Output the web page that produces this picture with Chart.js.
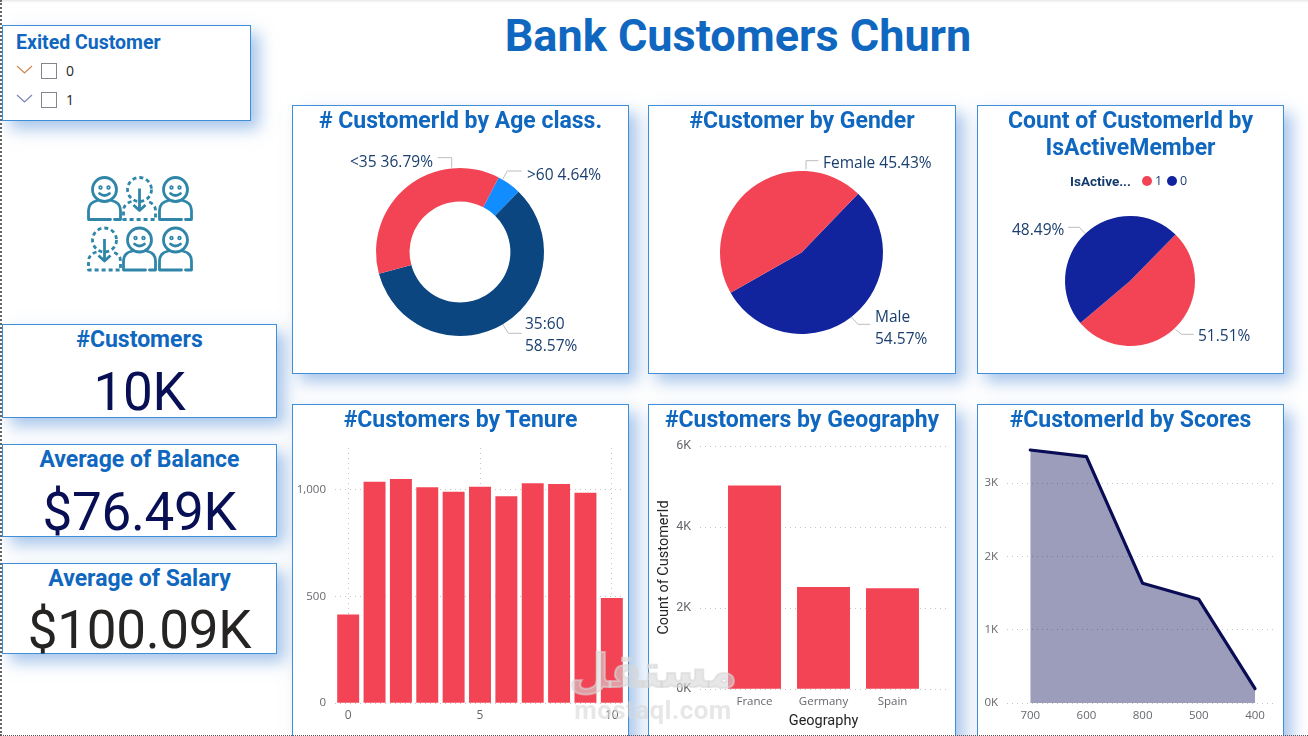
<!DOCTYPE html>
<html>
<head>
<meta charset="utf-8">
<title>Bank Customers Churn</title>
<script src="https://cdn.jsdelivr.net/npm/chart.js@4/dist/chart.umd.min.js"></script>
<style>
  html,body{margin:0;padding:0;background:#fff;width:1308px;height:736px;overflow:hidden;font-family:Roboto,sans-serif}
  .topline{position:absolute;left:0;top:0;width:1308px;height:3px;background:linear-gradient(#e9e9e9,#fff)}
  .leftline{position:absolute;left:0;top:0;width:0;height:736px;border-left:2px dotted #666}
  .botline{position:absolute;left:0;top:735px;width:1308px;height:0;border-top:1px dotted #555;z-index:5}
  .panel{position:absolute;box-sizing:border-box;background:#fff;border:1px solid #3f8ed8;box-shadow:8px 8px 15px rgba(80,140,215,.5)}
  canvas{position:absolute;display:block}
  .ttl{position:absolute;color:#0f67bf;font-weight:700;text-align:center;white-space:nowrap;font-size:23px;line-height:27px;z-index:2}
  #mainTitle{left:292px;width:892px;top:9px;font-size:45px;line-height:54px}
  .val{position:absolute;left:2px;width:275px;text-align:center;font-size:53px;line-height:60px;letter-spacing:-.3px;color:#080f55;z-index:2}
  .row{position:absolute;left:16px;height:16px;z-index:2;font:14px "Open Sans",sans-serif;color:#252423}
  .row svg{position:absolute;left:0;top:0}
  .row i{position:absolute;left:25px;top:0;width:14px;height:14px;border:1px solid #8a8290}
  .row span{position:absolute;left:50px;top:-2px}
  #legend{position:absolute;left:1070px;top:173px;height:16px;font:12.5px/16px "Open Sans",sans-serif;color:#1a3f6f;z-index:3;white-space:nowrap}
  #legend b{position:absolute;left:0;top:0;font-family:Roboto;font-size:13.5px;color:#123a6b}
  #legend i{position:absolute;top:3px;width:10px;height:10px;border-radius:50%}
  #legend span{position:absolute;top:0}
  #icon{position:absolute;left:80px;top:170px;z-index:2}
  #mark{position:absolute;left:560px;top:645px;width:186px;text-align:center;color:rgba(215,215,215,.6);z-index:4;pointer-events:none}
  #mark .ar{font:700 46px/52px "DejaVu Sans",sans-serif;direction:rtl;-webkit-text-stroke:2px rgba(215,215,215,.6)}
  #mark .en{font:700 26px/28px Roboto,sans-serif;letter-spacing:.4px;margin-top:-1px}
</style>
</head>
<body>
<div class="topline"></div><div class="leftline"></div><div class="botline"></div>

<div class="ttl" id="mainTitle">Bank Customers Churn</div>

<div class="panel" id="slicer" style="left:2px;top:25px;width:249px;height:96px"></div>
<div id="slicerText">
  <div class="ttl" style="left:16px;top:29px;font-size:19.5px;line-height:27px">Exited Customer</div>
  <div id="slicerRows"></div>
</div>

<svg id="icon" width="120" height="110" viewBox="80 170 120 110" fill="none" stroke="#2f86a8" stroke-width="2.8" stroke-linejoin="round">
  <defs>
    <g id="solidP" stroke-linecap="round">
      <circle cx="0" cy="0" r="12"/>
      <circle cx="-4" cy="-2" r=".8"/><circle cx="4" cy="-2" r=".8"/>
      <path d="M-5 4 Q0 8 5 4"/>
      <path d="M-7 11 C-12 12 -16 15 -16 21 V30 H6 M10 30 H16 V21 C16 15 12 12 7 11"/>
    </g>
    <g id="dashP">
      <circle cx="0" cy="0" r="12" stroke-dasharray="4 3"/>
      <path d="M-8 12 C-12 13 -16 16 -16 21 V30 H16 V21 C16 16 12 13 8 12" stroke-dasharray="4 3"/>
      <path d="M0 -1 V21 M-6 15.5 L0 21 L6 15.5"/>
    </g>
  </defs>
  <use href="#solidP" x="104.5" y="189.5"/>
  <use href="#dashP" x="139.5" y="189.5"/>
  <use href="#solidP" x="175.5" y="189.5"/>
  <use href="#dashP" x="104.5" y="240"/>
  <use href="#solidP" x="139.5" y="240"/>
  <use href="#solidP" x="175.5" y="240"/>
</svg>

<div class="panel" style="left:2px;top:324px;width:275px;height:94px"></div>
<div class="ttl" style="left:2px;width:275px;top:326px">#Customers</div>
<div class="val" style="top:362px">10K</div>

<div class="panel" style="left:2px;top:444px;width:275px;height:93px"></div>
<div class="ttl" style="left:2px;width:275px;top:446px">Average of Balance</div>
<div class="val" style="top:482px">$76.49K</div>

<div class="panel" style="left:2px;top:563px;width:275px;height:91px"></div>
<div class="ttl" style="left:2px;width:275px;top:565px">Average of Salary</div>
<div class="val" style="top:600px;color:#252423">$100.09K</div>

<div class="panel" style="left:292px;top:105px;width:337px;height:269px"></div>
<div class="ttl" style="left:292px;width:337px;top:107px"># CustomerId by Age class.</div>
<canvas id="ageChart" width="337" height="269" style="left:292px;top:105px"></canvas>

<div class="panel" style="left:648px;top:105px;width:308px;height:269px"></div>
<div class="ttl" style="left:648px;width:308px;top:107px">#Customer by Gender</div>
<canvas id="genderChart" width="308" height="269" style="left:648px;top:105px"></canvas>

<div class="panel" style="left:977px;top:105px;width:307px;height:269px"></div>
<div class="ttl" style="left:977px;width:307px;top:107px">Count of CustomerId by<br>IsActiveMember</div>
<canvas id="activeChart" width="307" height="269" style="left:977px;top:105px"></canvas>
<div id="legend"></div>

<div class="panel" style="left:292px;top:404px;width:337px;height:340px"></div>
<div class="ttl" style="left:292px;width:337px;top:406px">#Customers by Tenure</div>
<canvas id="tenureChart" width="337" height="332" style="left:292px;top:404px"></canvas>

<div class="panel" style="left:648px;top:404px;width:308px;height:340px"></div>
<div class="ttl" style="left:648px;width:308px;top:406px">#Customers by Geography</div>
<canvas id="geoChart" width="308" height="332" style="left:648px;top:404px"></canvas>

<div class="panel" style="left:977px;top:404px;width:307px;height:340px"></div>
<div class="ttl" style="left:977px;width:307px;top:406px">#CustomerId by Scores</div>
<canvas id="scoreChart" width="307" height="332" style="left:977px;top:404px"></canvas>

<div id="mark"><div class="ar">مستقل</div><div class="en">mostaql.com</div></div>

<script>
// ---- data -----------------------------------------------------------------
const exitedOptions = ["0", "1"];

const ageClasses = [">60", "35:60", "<35"];
const agePct     = [4.64, 58.57, 36.79];

const genders   = ["Male", "Female"];
const genderPct = [54.57, 45.43];

const activeKeys = ["1", "0"];
const activePct  = [51.51, 48.49];

const tenureYears  = [0, 1, 2, 3, 4, 5, 6, 7, 8, 9, 10];
const tenureCounts = [413, 1035, 1048, 1009, 989, 1012, 967, 1028, 1025, 984, 490];
const tenureXTicks = [0, 5, 10];
const tenureYTicks = [0, 500, 1000];

const countries    = ["France", "Germany", "Spain"];
const countryCount = [5014, 2509, 2477];
const geoYTicks    = [0, 2000, 4000, 6000];

const scoreBands  = ["700", "600", "800", "500", "400"];
const scoreCounts = [3450, 3359, 1632, 1414, 195];
const scoreYTicks = [0, 1000, 2000, 3000];

// ---- colours --------------------------------------------------------------
const RED = "#f34455", NAVY = "#0b4680", SKY = "#118dff", INDIGO = "#12239e";
const TICK = "#66686e", GRID = "#c4c4c4", LABEL = "#1a3f6f", LEADER = "#bdbdbd";

// ---- slicer + legend ------------------------------------------------------
const chevrons = ["#cc8a50", "#7a86b8"];
document.getElementById("slicerRows").innerHTML = exitedOptions.map((o, i) => `
  <div class="row" style="top:${63 + i * 29}px">
    <svg width="18" height="14"><path d="M1 3 L8.5 10 L16 3" fill="none" stroke="${chevrons[i]}" stroke-width="1.2"/></svg>
    <i></i><span>${o}</span>
  </div>`).join("");

document.getElementById("legend").innerHTML = `<b>IsActive...</b>
  <i style="left:72px;background:${RED}"></i><span style="left:85px">${activeKeys[0]}</span>
  <i style="left:97px;background:${INDIGO}"></i><span style="left:110px">${activeKeys[1]}</span>`;

// ---- pie labels with elbow leaders (page coordinates, minus canvas origin) --
const sliceLabels = {
  id: "sliceLabels",
  afterDraw(chart, args, o){
    const ctx = chart.ctx;
    ctx.save();
    ctx.strokeStyle = LEADER; ctx.lineWidth = 1;
    o.leaders.forEach(pts => {
      ctx.beginPath();
      pts.forEach((p, i) => i ? ctx.lineTo(p[0] - o.ox, p[1] - o.oy) : ctx.moveTo(p[0] - o.ox, p[1] - o.oy));
      ctx.stroke();
    });
    ctx.fillStyle = LABEL; ctx.font = '15.5px "Open Sans"'; ctx.textBaseline = "middle";
    o.texts.forEach(t => ctx.fillText(t.s, t.x - o.ox, t.y - o.oy + 1.5));
    ctx.restore();
  }
};

function pie(id, type, labels, values, colors, pad, rotation, cutout, leaders, texts, ox, oy){
  new Chart(document.getElementById(id), {
    type, plugins:[sliceLabels],
    data:{ labels, datasets:[{ data:values, backgroundColor:colors, borderWidth:0 }] },
    options:{
      responsive:false, animation:false, rotation, cutout,
      layout:{ padding:pad },
      plugins:{ legend:{display:false}, tooltip:{enabled:false}, title:{display:false},
        sliceLabels:{ leaders, texts, ox, oy } }
    }
  });
}

pie("ageChart", "doughnut", ageClasses, agePct, [SKY, NAVY, RED],
  {left:84, right:85, top:63, bottom:38}, 27.4, "60%",
  [[[451.7,167.7],[451.7,157.7],[437.7,157.7]],
   [[502.7,179.3],[507.3,171],[521.7,171]],
   [[502.7,324],[508.3,333.3],[521.7,333.3]]],
  [{s:`${ageClasses[2]} ${agePct[2]}%`, x:350, y:161},
   {s:`${ageClasses[0]} ${agePct[0]}%`, x:527, y:174},
   {s:ageClasses[1], x:525, y:323},
   {s:`${agePct[1]}%`, x:525, y:345}], 292, 105);

pie("genderChart", "pie", genders, genderPct, [INDIGO, RED],
  {left:72, right:73, top:66, bottom:40}, 44, 0,
  [[[806,169.3],[806,160.7],[818.4,160.7]],
   [[851.2,316.7],[857.9,324.3],[870.3,324.3]]],
  [{s:`${genders[1]} ${genderPct[1]}%`, x:823, y:162},
   {s:genders[0], x:875, y:316},
   {s:`${genderPct[0]}%`, x:875, y:338}], 648, 105);

pie("activeChart", "pie", activeKeys, activePct, [RED, INDIGO],
  {left:88, right:89, top:111, bottom:28}, 44.4, 0,
  [[[1068,227.3],[1079.4,227.3],[1084.8,233.3]],
   [[1175.3,329.3],[1181.5,334.3],[1193.6,334.3]]],
  [{s:`${activePct[1]}%`, x:1012, y:229},
   {s:`${activePct[0]}%`, x:1198, y:335}], 977, 105);

// ---- cartesian helpers ----------------------------------------------------
function yAxis(ticks, max, width, fmt, font, title){
  return {
    min:0, max,
    afterBuildTicks: s => { s.ticks = ticks.map(value => ({value})); },
    afterFit: s => { s.width = width; },
    ticks:{ color:TICK, font, padding:9, callback:fmt },
    grid:{ color:GRID, drawTicks:false },
    border:{ display:false, dash:[1,4] },
    title: title || {display:false}
  };
}
const kFmt = v => (v / 1000) + "K";

// ---- tenure bars ----------------------------------------------------------
new Chart(document.getElementById("tenureChart"), {
  type:"bar",
  data:{ datasets:[{ data:tenureYears.map((t, i) => ({x:t, y:tenureCounts[i]})), backgroundColor:RED, barThickness:21.3 }] },
  options:{
    responsive:false, animation:false,
    layout:{ padding:{left:0, right:4, top:44, bottom:0} },
    plugins:{ legend:{display:false}, tooltip:{enabled:false} },
    scales:{
      x:{ type:"linear", min:-0.5, max:10.5, offset:false,
        afterBuildTicks: s => { s.ticks = tenureXTicks.map(value => ({value})); },
        afterFit: s => { s.height = 33; },
        ticks:{ color:TICK, font:{family:"Open Sans", size:12}, padding:5, maxRotation:0, autoSkip:false, callback:v => v },
        grid:{ color:GRID, drawTicks:false, offset:false }, border:{display:false, dash:[1,4]} },
      y: yAxis(tenureYTicks, 1195, 43, v => v.toLocaleString("en-US"), {family:"Open Sans", size:11.5})
    }
  }
});

// ---- geography bars -------------------------------------------------------
new Chart(document.getElementById("geoChart"), {
  type:"bar",
  data:{ datasets:[{ data:countries.map((c, i) => ({x:i, y:countryCount[i]})), backgroundColor:RED, barThickness:52.3 }] },
  options:{
    responsive:false, animation:false,
    layout:{ padding:{left:0, right:9, top:42, bottom:0} },
    plugins:{ legend:{display:false}, tooltip:{enabled:false} },
    scales:{
      x:{ type:"linear", min:-0.79, max:2.79, offset:false,
        afterBuildTicks: s => { s.ticks = countries.map((c, i) => ({value:i})); },
        afterFit: s => { s.height = 47; },
        ticks:{ color:TICK, font:{family:"Open Sans", size:11.5}, padding:6, maxRotation:0, autoSkip:false, callback:v => countries[v] },
        grid:{ display:false, drawTicks:false }, border:{display:false},
        title:{ display:true, text:"Geography", color:"#252423", font:{family:"Roboto", size:14.5, weight:"normal"}, padding:{top:0, bottom:6} } },
      y: yAxis(geoYTicks, 6000, 52, kFmt, {family:"Roboto", size:12.5},
        { display:true, text:"Count of CustomerId", color:"#252423", font:{family:"Roboto", size:14.5, weight:"normal"}, padding:{top:8, bottom:0} })
    }
  }
});

// ---- score area -----------------------------------------------------------
new Chart(document.getElementById("scoreChart"), {
  type:"line",
  data:{ datasets:[{ data:scoreBands.map((b, i) => ({x:i, y:scoreCounts[i]})),
    borderColor:"#0a0c55", borderWidth:3.2, borderCapStyle:"round", borderJoinStyle:"round",
    backgroundColor:"rgba(13,16,88,.41)", fill:"origin", pointRadius:0, tension:0, clip:false }] },
  options:{
    responsive:false, animation:false,
    layout:{ padding:{left:0, right:10, top:35, bottom:0} },
    plugins:{ legend:{display:false}, tooltip:{enabled:false} },
    scales:{
      x:{ type:"linear", min:-0.414, max:4.338, offset:false,
        afterBuildTicks: s => { s.ticks = scoreBands.map((b, i) => ({value:i})); },
        afterFit: s => { s.height = 33; },
        ticks:{ color:TICK, font:{family:"Open Sans", size:11.5}, padding:6, maxRotation:0, autoSkip:false, callback:v => scoreBands[v] },
        grid:{ display:false, drawTicks:false }, border:{display:false} },
      y: yAxis(scoreYTicks, 3600, 30, kFmt, {family:"Open Sans", size:11.5})
    }
  }
});
</script>
</body>
</html>
